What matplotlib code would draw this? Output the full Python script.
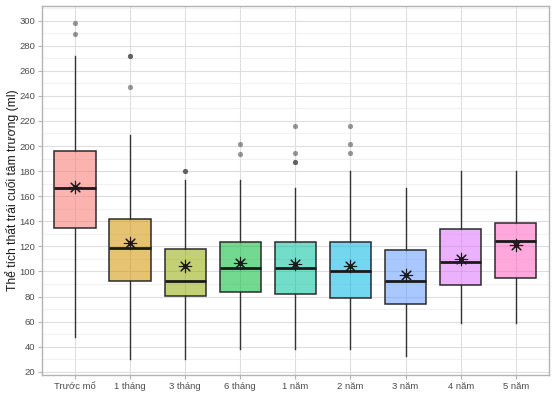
import matplotlib.pyplot as plt
from matplotlib.ticker import MultipleLocator
from matplotlib.colors import to_rgba

plt.rcParams['font.family'] = ['Liberation Sans', 'DejaVu Sans']

# nhom thoi gian
nhom = ["Trước mổ", "1 tháng", "3 tháng", "6 tháng", "1 năm", "2 năm", "3 năm", "4 năm", "5 năm"]

# thong so hop (doc tu hinh)
q1 = [134.4, 92.6, 80.4, 83.3, 82.2, 78.5, 74.3, 88.9, 95.0]
trung_vi = [166.8, 118.4, 92.6, 102.7, 102.5, 100.3, 92.6, 107.8, 124.3]
q3 = [196.0, 141.6, 117.9, 123.7, 123.7, 123.7, 116.8, 133.8, 138.4]
rau_duoi = [48.0, 30.0, 30.0, 38.4, 38.4, 38.4, 32.8, 58.6, 58.6]
rau_tren = [272.0, 208.6, 172.9, 173.0, 166.3, 180.0, 166.3, 180.0, 180.0]
trung_binh = [167.0, 122.9, 104.1, 106.5, 105.7, 104.6, 96.9, 110.2, 121.1]
ngoai_lai = [
    [298.4, 289.6],
    [272.0, 272.0, 247.4],
    [180.1, 180.1],
    [201.4, 193.9],
    [216.2, 194.2, 187.0, 187.0],
    [216.2, 201.4, 194.2],
    [],
    [],
    [],
]

mau = ["#F8766D", "#D39200", "#93AA00", "#00BA38", "#00C19F",
       "#00B9E3", "#619CFF", "#DB72FB", "#FF61C3"]

fig = plt.figure(figsize=(5.56, 3.97), dpi=100)
ax = fig.add_axes([0.0755, 0.0554, 0.9115, 0.9296])

stats = []
for i in range(len(nhom)):
    stats.append(dict(med=trung_vi[i], q1=q1[i], q3=q3[i],
                      whislo=rau_duoi[i], whishi=rau_tren[i],
                      fliers=[], label=nhom[i]))

vitri = list(range(1, len(nhom) + 1))
bp = ax.bxp(stats, positions=vitri, widths=0.75, patch_artist=True,
            showfliers=False, showcaps=False,
            boxprops=dict(linewidth=1.1, edgecolor="#2b2b2b"),
            whiskerprops=dict(linewidth=1.0, color="#333333"),
            medianprops=dict(linewidth=2.0, color="#1a1a1a"))
for patch, c in zip(bp["boxes"], mau):
    patch.set_facecolor(to_rgba(c, 0.55))
for w in bp["whiskers"]:
    w.set_zorder(1.5)

for i, ds in enumerate(ngoai_lai):
    if ds:
        ax.scatter([vitri[i]] * len(ds), ds, s=14, color="#333333",
                   alpha=0.5, linewidths=0, zorder=3)

ax.scatter(vitri, trung_binh, marker=(8, 2, 0), s=80, color="#1a1a1a",
           linewidths=0.8, zorder=4)
ax.scatter(vitri, trung_binh, s=6, color="#1a1a1a", zorder=4)

ax.set_xlim(0.4, 9.6)
ax.set_ylim(17.4, 311.7)
ax.yaxis.set_major_locator(MultipleLocator(20))
ax.yaxis.set_minor_locator(MultipleLocator(10))
ax.set_xticks(vitri)
ax.set_xticklabels(nhom)

ax.grid(True, which="major", color="#DEDEDE", linewidth=0.8)
ax.grid(True, which="minor", axis="y", color="#EBEBEB", linewidth=0.5)
ax.set_axisbelow(True)
for s in ax.spines.values():
    s.set_color("#B3B3B3")
    s.set_linewidth(1.0)

ax.tick_params(axis="both", which="major", length=3, color="#B3B3B3",
               labelsize=6.8, labelcolor="#4D4D4D", pad=2)
ax.tick_params(axis="y", which="minor", length=0)

ax.set_ylabel("Thể tích thất trái cuối tâm trương (ml)", fontsize=8.7,
              color="#1a1a1a", labelpad=0)

fig.savefig("out.png", dpi=100)
